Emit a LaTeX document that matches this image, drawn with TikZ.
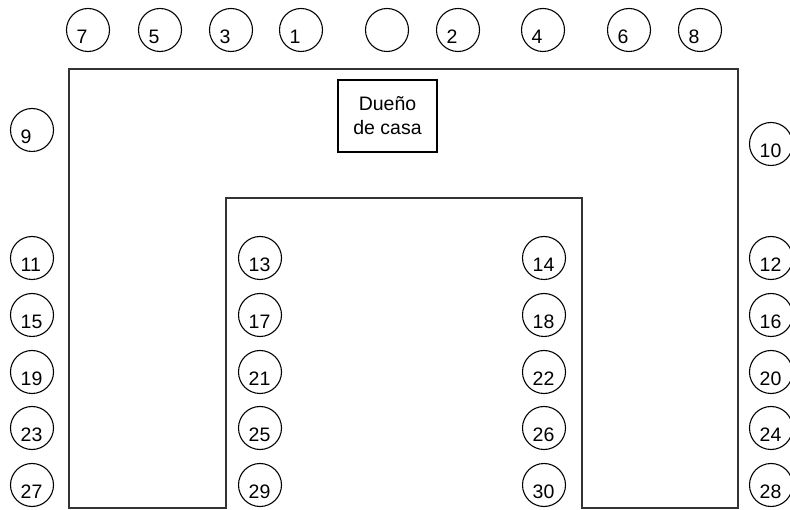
\documentclass[tikz,border=0pt]{standalone}
\usepackage{fontspec}
\setmainfont{Liberation Sans}
\begin{document}
\begin{tikzpicture}[x=1pt,y=-1pt,
  seat/.style={draw=black,line width=1.1pt,circle,minimum size=43pt,inner sep=0pt},
  num/.style={anchor=base west,inner sep=0pt,font=\fontsize{19.5}{22}\selectfont},
  hall/.style={draw=black!80,line width=1.6pt},
  ownerbox/.style={draw=black,line width=1.2pt,minimum width=99pt,minimum height=72pt,inner sep=0pt,align=center,font=\fontsize{19.5}{24}\selectfont}]
\useasboundingbox (0,0) rectangle (790,510);
% U-shaped table
\draw[hall] (69,508) -- (69,69) -- (738,69) -- (738,508) -- (582,508) -- (582,198) -- (226,198) -- (226,508) -- cycle;
% owner box
\node[ownerbox] (owner) at (387.5,116) {Dueño\\de casa};
% empty seat
\node[seat] (c0) at (387,30) {};
% numbered seats
\foreach \n/\x/\y in {7/88/30,5/160/30,3/231/30,1/301/30,2/458/30,4/543/30,6/629/30,8/700/30,
  9/32/130,10/771/144,
  11/32/258,15/32/315,19/32/372,23/32/428,27/32/485,
  13/260/258,17/260/315,21/260/372,25/260/428,29/260/485,
  14/544/258,18/544/315,22/544/372,26/544/428,30/544/485,
  12/771/258,16/771/315,20/771/372,24/771/428,28/771/485}{
  \node[seat] (c\n) at (\x,\y) {};
  \node[num] (t\n) at ([xshift=-11.5pt,yshift=-13.5pt]c\n.center) {\n};
}
\end{tikzpicture}
\end{document}
